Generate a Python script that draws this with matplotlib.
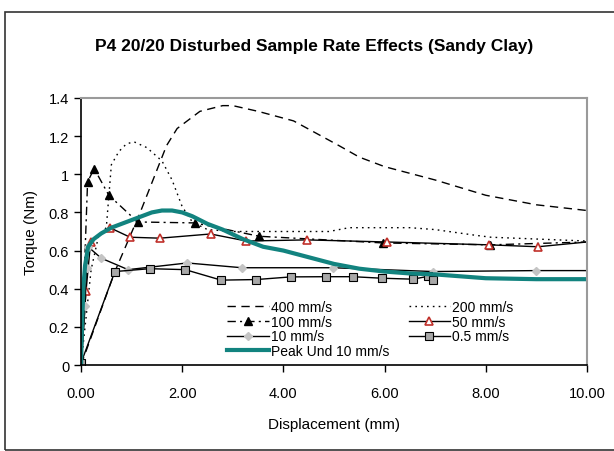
import matplotlib
matplotlib.use("Agg")
import matplotlib.pyplot as plt
from matplotlib import font_manager
from matplotlib.patches import Rectangle

names = {f.name for f in font_manager.fontManager.ttflist}
narrow = "Liberation Sans Narrow" if "Liberation Sans Narrow" in names else "Liberation Sans"
plt.rcParams['font.family'] = [narrow, 'DejaVu Sans']

title = "P4 20/20 Disturbed Sample Rate Effects (Sandy Clay)"
xlabel = "Displacement (mm)"
ylabel = "Torque (Nm)"
x_ticks = [0, 2, 4, 6, 8, 10]
x_ticklabels = ["0.00", "2.00", "4.00", "6.00", "8.00", "10.00"]
y_ticks = [0, 0.2, 0.4, 0.6, 0.8, 1.0, 1.2, 1.4]
y_ticklabels = ["0", "0.2", "0.4", "0.6", "0.8", "1", "1.2", "1.4"]

x400 = [0, 0.67, 1.17, 1.69, 1.9, 2.35, 2.8, 3.0, 3.5, 4.2, 5.1, 5.5, 6.0, 7.0, 8.0, 9.0, 10.0]
y400 = [0, 0.49, 0.80, 1.15, 1.24, 1.33, 1.36, 1.36, 1.33, 1.28, 1.15, 1.09, 1.04, 0.97, 0.89, 0.84, 0.81]

x200 = [0, 0.2, 0.35, 0.5, 0.6, 0.75, 0.9, 1.05, 1.3, 1.6, 1.8, 2.0, 2.2, 2.5, 3.0, 4.9, 5.3, 6.5, 7.0, 7.8, 8.1, 10.0]
y200 = [0, 0.5, 0.68, 0.72, 1.05, 1.12, 1.16, 1.17, 1.14, 1.07, 0.97, 0.83, 0.75, 0.71, 0.70, 0.70, 0.72, 0.72, 0.71, 0.68, 0.67, 0.65]

x100 = [0, 0.13, 0.26, 0.55, 1.12, 2.25, 3.52, 5.97, 8.08, 10.0]
y100 = [0, 0.96, 1.03, 0.89, 0.75, 0.745, 0.675, 0.64, 0.63, 0.645]

x50 = [0, 0.1, 0.19, 0.57, 0.97, 1.56, 2.56, 3.27, 4.46, 6.05, 8.07, 9.03, 10.0]
y50 = [0, 0.39, 0.645, 0.72, 0.67, 0.665, 0.687, 0.65, 0.656, 0.645, 0.63, 0.62, 0.645]

x10 = [0, 0.08, 0.11, 0.14, 0.4, 0.93, 2.1, 3.18, 4.98, 6.96, 8.99, 10.0]
y10 = [0, 0.31, 0.51, 0.62, 0.56, 0.50, 0.535, 0.51, 0.51, 0.49, 0.495, 0.495]

x05 = [0, 0.67, 1.36, 2.06, 2.77, 3.46, 4.15, 4.84, 5.37, 5.95, 6.56, 6.86, 6.95]
y05 = [0.01, 0.49, 0.505, 0.50, 0.445, 0.448, 0.462, 0.463, 0.463, 0.455, 0.45, 0.465, 0.448]

xpk = [0, 0.02, 0.05, 0.08, 0.14, 0.25, 0.4, 0.6, 0.8, 1.0, 1.2, 1.4, 1.6, 1.8, 2.0, 2.2, 2.5, 2.8,
       3.2, 3.6, 4.0, 4.5, 5.0, 5.5, 6.0, 6.5, 7.0, 7.5, 8.0, 9.0, 10.0]
ypk = [0, 0.2, 0.42, 0.52, 0.62, 0.66, 0.69, 0.72, 0.74, 0.76, 0.78, 0.80, 0.81, 0.81, 0.80, 0.78,
       0.74, 0.71, 0.66, 0.62, 0.60, 0.565, 0.53, 0.505, 0.49, 0.48, 0.475, 0.465, 0.455, 0.45, 0.45]

W, H = 614, 452
fig = plt.figure(figsize=(W / 100, H / 100), dpi=100)
fig.patches.append(Rectangle((5 / W, 1 / H), 1.2, 1 - 14 / H, transform=fig.transFigure,
                             fill=False, edgecolor='#333333', lw=1.2))
ax = fig.add_axes([81 / W, 1 - 366 / H, (587 - 81) / W, (366 - 99) / H])

h400, = ax.plot(x400, y400, color='black', lw=1.0, ls=(0, (6, 4)), label='400 mm/s')
h200, = ax.plot(x200, y200, color='black', lw=1.0, ls=(0, (1.2, 3)), label='200 mm/s')
h100, = ax.plot(x100, y100, color='black', lw=1.0, ls=(0, (6, 3, 1.5, 3)), marker='^',
                markersize=6, mfc='black', mec='black', markevery=slice(1, -1), label='100 mm/s')
h50, = ax.plot(x50, y50, color='black', lw=1.0, marker='^', markersize=6, mfc='white',
               mec='#c0302a', mew=1.2, markevery=slice(0, -1), label='50 mm/s')
h10, = ax.plot(x10, y10, color='black', lw=1.0, marker='D', markersize=4.5, mfc='#c4c4c4',
               mec='#c4c4c4', markevery=slice(0, -1), label='10 mm/s')
h05, = ax.plot(x05, y05, color='black', lw=1.0, marker='s', markersize=5.5, mfc='#a8a8a8',
               mec='black', mew=0.8, label='0.5 mm/s')
hpk, = ax.plot(xpk, ypk, color='#12837f', lw=3.0, label='Peak Und 10 mm/s')

ax.set_xlim(0, 10)
ax.set_ylim(0, 1.4)
ax.set_xticks(x_ticks)
ax.set_xticklabels(x_ticklabels)
ax.set_yticks(y_ticks)
ax.set_yticklabels(y_ticklabels)
ax.tick_params(direction='out', length=5, width=1, labelsize=10.5, colors='black')
ax.tick_params(axis='x', pad=10)
for s in ('left', 'bottom'):
    ax.spines[s].set_color('black')
    ax.spines[s].set_linewidth(1.2)
for s in ('top', 'right'):
    ax.spines[s].set_color('#9a9a9a')
    ax.spines[s].set_linewidth(1.5)

ax.set_xlabel(xlabel, fontsize=11, labelpad=12)
ax.set_ylabel(ylabel, fontsize=11, labelpad=8)
fig.text(314 / W, 1 - 47 / H, title, fontsize=12.5, fontweight='bold', ha='center', va='center')

handles = [h400, h100, h10, hpk, h200, h50, h05]
ax.legend(handles=handles, labels=[h.get_label() for h in handles], ncol=2, frameon=False,
          loc='upper left', bbox_to_anchor=(227 / W, 1 - 301 / H), bbox_transform=fig.transFigure,
          borderpad=0, borderaxespad=0, fontsize=10, labelspacing=0.05, handlelength=3.0,
          handletextpad=0.15, columnspacing=1.4)

fig.savefig("out.png", dpi=100)
